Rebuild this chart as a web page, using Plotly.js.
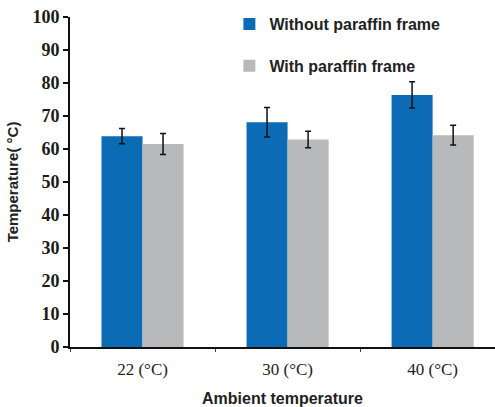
<!DOCTYPE html>
<html>
<head>
<meta charset="utf-8">
<script src="https://cdn.plot.ly/plotly-3.0.1.min.js"></script>
<style>html,body{margin:0;padding:0;background:#fff;}#chart{width:495px;height:407px;}</style>
</head>
<body>
<div id="chart"></div>
<script>
var categories = ["22 (\u00B0C)", "30 (\u00B0C)", "40 (\u00B0C)"];
var withoutValues = [63.9, 68.1, 76.4];
var withoutErrors = [2.3, 4.5, 4.0];
var withValues = [61.5, 62.9, 64.2];
var withErrors = [3.2, 2.5, 3.0];
var seriesNames = ["Without paraffin frame", "With paraffin frame"];
var yTicks = [0, 10, 20, 30, 40, 50, 60, 70, 80, 90, 100];

var errStyle = {type: "data", visible: true, color: "#111", thickness: 1.5, width: 3};
var serif = "'Liberation Serif', 'Times New Roman', serif";
var sans = "'Liberation Sans', Arial, sans-serif";

var traces = [
  {type: "bar", name: seriesNames[0], x: categories, y: withoutValues, legendgroup: "a",
   marker: {color: "#0b6cb5", line: {width: 0}},
   error_y: Object.assign({array: withoutErrors}, errStyle)},
  {type: "bar", name: seriesNames[1], x: categories, y: withValues, legendgroup: "b",
   marker: {color: "#b7b9bb", line: {width: 0}},
   error_y: Object.assign({array: withErrors}, errStyle)}
];

var layout = {
  width: 495, height: 407,
  margin: {l: 70, r: 0, t: 17, b: 60},
  paper_bgcolor: "#fff", plot_bgcolor: "#fff",
  barmode: "group", bargap: 0.434, bargroupgap: 0,
  showlegend: true,
  legend: {x: 0.375, y: 1.03, xanchor: "left", yanchor: "top", bgcolor: "rgba(0,0,0,0)",
    font: {family: sans, size: 16, color: "#222", weight: "bold"},
    tracegroupgap: 18, itemwidth: 30},
  xaxis: {
    range: [-0.5, 2.43], type: "category",
    showline: true, linecolor: "#111", linewidth: 2,
    ticks: "outside", tickson: "boundaries", ticklen: 3, tickcolor: "#444", tickwidth: 1,
    showgrid: false, zeroline: false, ticklabelstandoff: 6,
    tickfont: {family: serif, size: 17, color: "#222"},
    title: {text: "Ambient temperature", font: {family: sans, size: 16, color: "#222", weight: "bold"}, standoff: 18}
  },
  yaxis: {
    range: [0, 100], tickvals: yTicks,
    showline: true, linecolor: "#111", linewidth: 2,
    ticks: "outside", ticklen: 5, tickcolor: "#111", tickwidth: 2,
    showgrid: false, zeroline: false,
    tickfont: {family: serif, size: 18, color: "#1a1a1a", weight: "bold"},
    title: {text: "Temperature( \u00B0C)", font: {family: sans, size: 15, color: "#222", weight: "bold"}, standoff: 10}
  }
};

Plotly.newPlot("chart", traces, layout, {displayModeBar: false, staticPlot: true});
</script>
</body>
</html>
